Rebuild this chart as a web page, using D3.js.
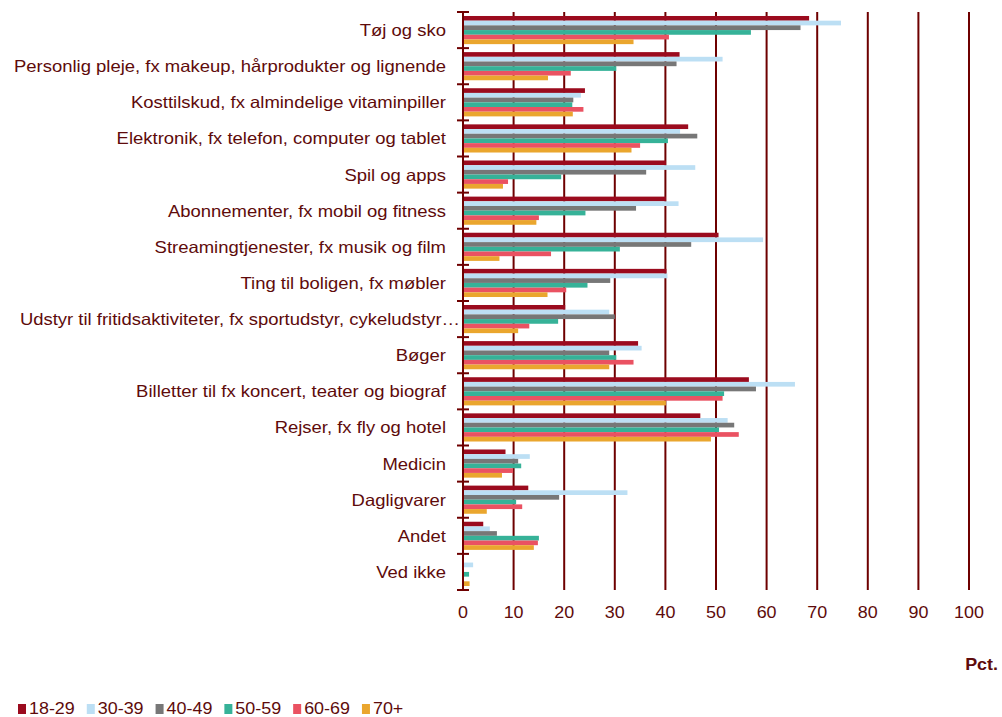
<!DOCTYPE html>
<html lang="da">
<head>
<meta charset="utf-8" />
<script src="https://cdnjs.cloudflare.com/ajax/libs/d3/7.8.5/d3.min.js"></script>
<style>
body { margin: 0; background: #fff; }
svg { font-family: "Liberation Sans", Arial, sans-serif; }
</style>
</head>
<body>
<svg id="chart" width="1002" height="717"></svg>
<script>
// kategorier (oppefra og ned)
var categories = [
  "Tøj og sko",
  "Personlig pleje, fx makeup, hårprodukter og lignende",
  "Kosttilskud, fx almindelige vitaminpiller",
  "Elektronik, fx telefon, computer og tablet",
  "Spil og apps",
  "Abonnementer, fx mobil og fitness",
  "Streamingtjenester, fx musik og film",
  "Ting til boligen, fx møbler",
  "Udstyr til fritidsaktiviteter, fx sportudstyr, cykeludstyr…",
  "Bøger",
  "Billetter til fx koncert, teater og biograf",
  "Rejser, fx fly og hotel",
  "Medicin",
  "Dagligvarer",
  "Andet",
  "Ved ikke"
];

var groups = ["18-29", "30-39", "40-49", "50-59", "60-69", "70+"];

// værdier i pct., en række pr. aldersgruppe
var age18_29 = [68.4, 42.8, 24.1, 44.5, 40.1, 40.1, 50.5, 40.2, 20.2, 34.6, 56.5, 46.9, 8.4, 12.9, 4.0, 0];
var age30_39 = [74.7, 51.3, 23.3, 42.9, 45.9, 42.6, 59.3, 40.4, 28.9, 35.3, 65.6, 52.3, 13.2, 32.5, 5.3, 2.0];
var age40_49 = [66.7, 42.2, 21.8, 46.3, 36.2, 34.2, 45.1, 29.1, 30.0, 28.9, 57.9, 53.6, 10.9, 19.0, 6.7, 0];
var age50_59 = [56.9, 30.3, 21.6, 40.5, 19.4, 24.2, 31.0, 24.6, 18.8, 30.3, 51.6, 50.6, 11.5, 10.5, 15.0, 1.2];
var age60_69 = [40.7, 21.3, 23.8, 35.0, 8.9, 15.0, 17.4, 20.4, 13.1, 33.7, 51.3, 54.5, 9.9, 11.7, 14.8, 0];
var age70plus = [33.7, 16.8, 21.7, 33.3, 7.9, 14.5, 7.2, 16.7, 10.9, 28.9, 40.1, 49.0, 7.7, 4.7, 14.0, 1.3];

var xTicks = [0, 10, 20, 30, 40, 50, 60, 70, 80, 90, 100];

var series = [age18_29, age30_39, age40_49, age50_59, age60_69, age70plus];
var colors = ["#9b0b1e", "#bcdff4", "#777777", "#36b298", "#ea5262", "#eaa62e"];
var ink = "#5e0b0b";
var gridColor = "#6e0000";
var stretch = 1.12; // teksten i originalen er lidt bredere end Arial

var svg = d3.select("#chart");

var x = d3.scaleLinear().domain([0, 100]).range([463, 969]);
var y = d3.scaleBand().domain(categories).range([12, 590]);
var y1 = d3.scaleBand().domain(groups).range([0, y.bandwidth()]).paddingOuter(0.85);
var color = d3.scaleOrdinal().domain(groups).range(colors);

// tekst med vandret stræk
function label(parent, tx, ty, str, size, anchor, bold) {
  var g = parent.append("g")
    .attr("transform", "translate(" + tx + "," + ty + ") scale(" + stretch + ",1)");
  var t = g.append("text")
    .attr("text-anchor", anchor)
    .attr("font-size", size)
    .attr("fill", ink)
    .text(str);
  if (bold) t.attr("font-weight", "bold");
  return t;
}

// lodrette gitterlinjer
svg.append("g")
  .selectAll("line")
  .data(xTicks.slice(1))
  .enter().append("line")
    .attr("x1", function(d) { return x(d); })
    .attr("x2", function(d) { return x(d); })
    .attr("y1", 12)
    .attr("y2", 590)
    .attr("stroke", gridColor)
    .attr("stroke-width", 2);

// søjler
var rows = [];
categories.forEach(function(c, i) {
  groups.forEach(function(g, j) {
    rows.push({ cat: c, group: g, value: series[j][i] });
  });
});

svg.append("g")
  .selectAll("rect")
  .data(rows.filter(function(d) { return d.value > 0; }))
  .enter().append("rect")
    .attr("x", x(0) + 1)
    .attr("y", function(d) { return y(d.cat) + y1(d.group); })
    .attr("width", function(d) { return x(d.value) - x(0) - 1; })
    .attr("height", y1.bandwidth())
    .attr("fill", function(d) { return color(d.group); });

// y-akse med streger mellem kategorierne
var yAxis = svg.append("g");
yAxis.append("line")
  .attr("x1", x(0)).attr("x2", x(0))
  .attr("y1", 12).attr("y2", 590)
  .attr("stroke", gridColor).attr("stroke-width", 2);

var bounds = categories.map(function(c) { return y(c); }).concat([590]);
yAxis.selectAll("line.tick")
  .data(bounds)
  .enter().append("line")
    .attr("class", "tick")
    .attr("x1", x(0) - 6).attr("x2", x(0) + 6)
    .attr("y1", function(d) { return d; })
    .attr("y2", function(d) { return d; })
    .attr("stroke", gridColor).attr("stroke-width", 2);

categories.forEach(function(c) {
  // afkortet etiket løber helt ind til aksen
  var right = c.slice(-1) === "…" ? 460 : 446;
  label(yAxis, right, y(c) + y.bandwidth() / 2 + 6, c, 16.5, "end");
});

// x-akse tal
var xAxis = svg.append("g");
xTicks.forEach(function(d) {
  label(xAxis, x(d), 618, d, 16, "middle");
});

label(svg, 998, 670, "Pct.", 16, "end", true);

// forklaring
var legend = svg.append("g").attr("transform", "translate(18,704)");
var lx = 0;
groups.forEach(function(g) {
  legend.append("rect")
    .attr("x", lx).attr("y", 0)
    .attr("width", 8).attr("height", 10)
    .attr("fill", color(g));
  var t = label(legend, lx + 11, 10, g, 16, "start");
  lx += 11 + t.node().getComputedTextLength() * stretch + 12;
});
</script>
</body>
</html>
